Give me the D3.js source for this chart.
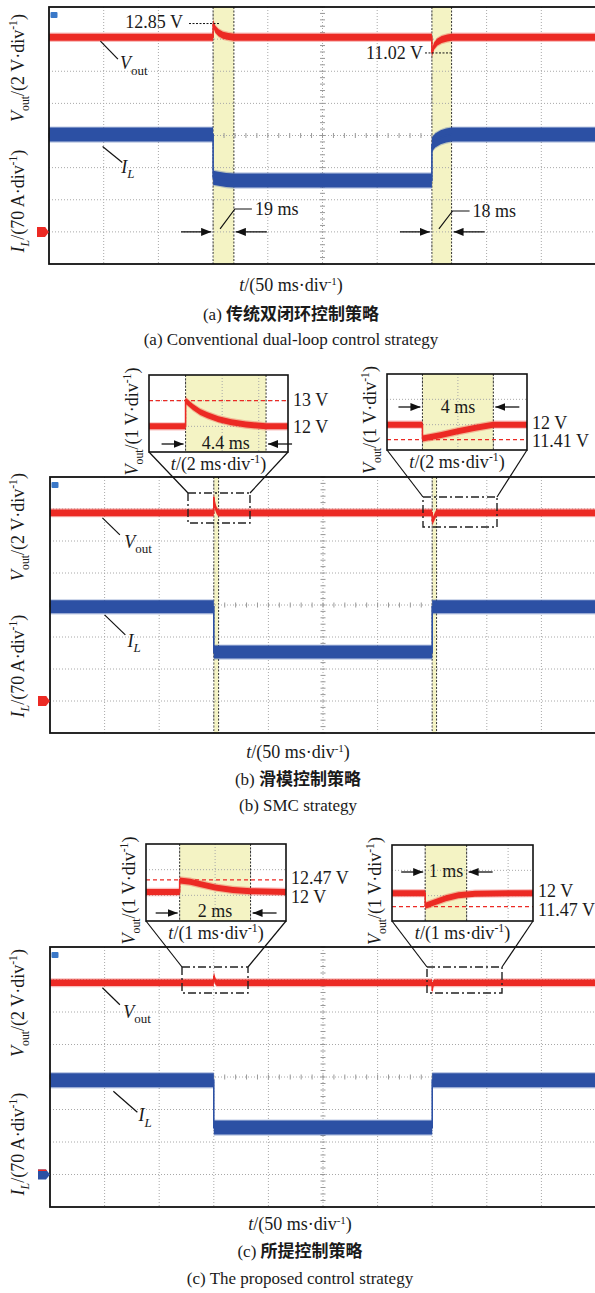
<!DOCTYPE html>
<meta charset="utf-8">
<style>
body { margin: 0; background: #fff; }
svg { display: block; background: #fff; }
text { font-family: "Liberation Serif", "Times New Roman", serif; font-size: 18px; fill: #1a1a1a; }
.cn { font-family: "Noto Sans CJK SC", sans-serif; font-weight: bold; }
.grid line { stroke: #a8a8a8; stroke-width: 1; stroke-dasharray: 1,2; }
.minor line { stroke: #999; stroke-width: 1; }
.frame { fill: none; stroke: #111; stroke-width: 1.8; }
.lead { stroke: #111; stroke-width: 1.2; fill: none; }
.edge { stroke: #333; stroke-width: 1; stroke-dasharray: 2,1.5; }
.dashdot { fill: none; stroke: #222; stroke-width: 1.4; stroke-dasharray: 8,3,2,3; }
</style>
<svg width="595" height="1293"></svg>
<script src="https://cdn.jsdelivr.net/npm/d3@7"></script>
<script>

// scope settings
var tDomain = [0, 500];      // 50 ms/div, 10 div
var vPerDiv = 2, iPerDiv = 70;
var loadSteps = [150, 350];  // ms

// (a) conventional dual-loop, [t ms, value]
var voutA = [[0,12],[150,12],[150,12.85],[152,12.5],[155,12.28],[159,12.12],[164,12.04],[169,12],
             [350,12],[350,11.02],[352,11.45],[355,11.7],[359,11.86],[364,11.95],[368,12],[500,12]];
var ilA = [[0,212],[150,212],[150,118],[155,116],[162,113],[169,112],
           [350,112],[350,190],[353,199],[358,206],[363,210],[368,212],[500,212]];
var settleA = [19, 18];

// (b) SMC
var ilB = [[0,206],[150,206],[150,107],[350,107],[350,206],[500,206]];
var settleB = [4.4, 4];

// (c) proposed
var ilC = [[0,203],[150,203],[150,101],[350,101],[350,203],[500,203]];
var settleC = [2, 1];

// zoomed Vout around each load step, [ms after step, V]
var zoomB1 = [[-2,12],[0,12],[0,13],[0.4,12.75],[0.8,12.56],[1.2,12.43],[1.8,12.28],[2.5,12.16],[3.3,12.07],[4.4,12],[5.6,12]];
var zoomB2 = [[-2,12],[0,12],[0,11.45],[1,11.58],[2,11.74],[3,11.88],[4,12],[5.9,12]];
var zoomC1 = [[-1,12],[0,12],[0,12.45],[0.3,12.4],[0.6,12.3],[1,12.18],[1.5,12.08],[2,12.03],[3,12]];
var zoomC2 = [[-0.8,12],[0,12],[0,11.5],[0.2,11.62],[0.5,11.8],[0.8,11.92],[1.2,11.98],[2.6,12]];

var captionsCn = ["传统双闭环控制策略", "滑模控制策略", "所提控制策略"];
var captionsEn = ["(a) Conventional dual-loop control strategy", "(b) SMC strategy", "(c) The proposed control strategy"];
var tags = ["(a) ", "(b) ", "(c) "];

var RED = "#ec2a24", BLUE = "#2c50a4", YEL = "#f4f3c4";

function shift(arr, t0) { return arr.map(function(d) { return [d[0] + t0, d[1]]; }); }
var voutB = [[0,12]].concat(shift(zoomB1, 150), shift(zoomB2, 350), [[500,12]]);
var voutC = [[0,12]].concat(shift(zoomC1, 150), shift(zoomC2, 350), [[500,12]]);

var svg = d3.select("svg");

var defs = svg.append("defs");
defs.append("marker").attr("id", "ah")
    .attr("markerUnits", "userSpaceOnUse")
    .attr("markerWidth", 10).attr("markerHeight", 8)
    .attr("refX", 10).attr("refY", 4).attr("orient", "auto")
  .append("path").attr("d", "M0,0L10,4L0,8z").attr("fill", "#111");

function rich(sel, parts, size) {
  var cur = 0;
  parts.forEach(function(p) {
    var ts = sel.append("tspan").text(p[0]);
    var k = p[1], target = 0;
    if (k === "sub" || k === "isub") target = size * 0.28;
    if (k === "sup") target = -size * 0.38;
    if (target !== cur) { ts.attr("dy", target - cur); cur = target; }
    if (k === "sub" || k === "isub" || k === "sup") ts.style("font-size", (size * 0.65) + "px");
    if (k === "i" || k === "isub") ts.style("font-style", "italic");
  });
  return sel;
}

var vAxis2 = [["V","i"],["out","sub"],["/(2 V·div",""],["-1","sup"],[")",""]];
var iAxis = [["I","i"],["L","isub"],["/(70 A·div",""],["-1","sup"],[")",""]];
var tAxis50 = [["t","i"],["/(50 ms·div",""],["-1","sup"],[")",""]];
var vAxis1 = [["V","i"],["out","sub"],["/(1 V·div",""],["-1","sup"],[")",""]];
var tAxis2 = [["t","i"],["/(2 ms·div",""],["-1","sup"],[")",""]];
var tAxis1 = [["t","i"],["/(1 ms·div",""],["-1","sup"],[")",""]];
var vName = [["V","i"],["out","sub"]];
var iName = [["I","i"],["L","isub"]];

function band(g, pts, x, yOf, half, color) {
  var outer = d3.area().x(function(d) { return x(d[0]); })
      .y0(function(d) { return yOf(d[1]) - half - 1.2; })
      .y1(function(d) { return yOf(d[1]) + half + 1.2; });
  var inner = d3.area().x(function(d) { return x(d[0]); })
      .y0(function(d) { return yOf(d[1]) - half; })
      .y1(function(d) { return yOf(d[1]) + half; });
  var line = d3.line().x(function(d) { return x(d[0]); }).y(function(d) { return yOf(d[1]); });
  g.append("path").datum(pts).attr("d", outer).attr("fill", color).attr("opacity", 0.3);
  g.append("path").datum(pts).attr("d", inner).attr("fill", color);
  g.append("path").datum(pts).attr("d", line).attr("fill", "none").attr("stroke", color).attr("stroke-width", 1.6);
}

function arrow(g, x1, y1, x2, y2) {
  g.append("line").attr("x1", x1).attr("y1", y1).attr("x2", x2).attr("y2", y2)
    .attr("stroke", "#111").attr("stroke-width", 1.3).attr("marker-end", "url(#ah)");
}

var panels = [
  {left:49, right:596, top:7, bottom:264, vGround:1.06, iGround:1, vout:voutA, il:ilA, settle:settleA,
   vHalf:3.5, iHalf:7, gnd:[RED, RED], showBand:true, capX:291, capY:[291,320,345],
   vLab:{t:[47,63,65], dy:[4,22,32]}, iLab:{t:[49,67,66], dy:[12,28,38]}, axY:[68,201]},
  {left:50, right:596, top:477, bottom:733, vGround:0.88, iGround:1, vout:voutB, il:ilB, settle:settleB,
   vHalf:3.3, iHalf:6.5, gnd:[RED, RED], showBand:true, capX:298, capY:[758,785,811],
   vLab:{t:[48,64,68], dy:[5,22,35]}, iLab:{t:[50,69,71], dy:[8,28,40]}, axY:[527,666]},
  {left:50, right:596, top:947, bottom:1207, vGround:0.9, iGround:1, vout:voutC, il:ilC, settle:settleC,
   vHalf:3.2, iHalf:7, gnd:[BLUE, RED], showBand:false, capX:300, capY:[1230,1257,1284],
   vLab:{t:[48,64,67], dy:[5,22,35]}, iLab:{t:[58,80,81], dy:[11,32,41]}, axY:[1003,1144]}
];

panels.forEach(function(p, pi) {
  var g = svg.append("g");
  var x = d3.scaleLinear().domain(tDomain).range([p.left, p.right]);
  var y = d3.scaleLinear().domain([0, 8]).range([p.bottom, p.top]);
  var yV = function(v) { return y(p.vGround + v / vPerDiv); };
  var yI = function(a) { return y(p.iGround + a / iPerDiv); };

  // settling windows
  if (p.showBand) {
    loadSteps.forEach(function(t0, i) {
      var t1 = t0 + p.settle[i];
      g.append("rect").attr("x", x(t0)).attr("y", p.top).attr("width", x(t1) - x(t0))
        .attr("height", p.bottom - p.top).attr("fill", YEL);
      [t0, t1].forEach(function(t) {
        g.append("line").attr("class", "edge").attr("x1", x(t)).attr("x2", x(t))
          .attr("y1", p.top).attr("y2", p.bottom);
      });
    });
  }

  var grid = g.append("g").attr("class", "grid");
  grid.selectAll(".gv").data(d3.range(50, 500, 50)).enter().append("line")
    .attr("x1", function(d) { return x(d); }).attr("x2", function(d) { return x(d); })
    .attr("y1", p.top).attr("y2", p.bottom);
  grid.selectAll(".gh").data(d3.range(1, 8)).enter().append("line")
    .attr("x1", p.left).attr("x2", p.right)
    .attr("y1", function(d) { return y(d); }).attr("y2", function(d) { return y(d); });

  var minor = g.append("g").attr("class", "minor");
  minor.selectAll(".mx").data(d3.range(0, 500.1, 10)).enter().append("line")
    .attr("x1", function(d) { return x(d); }).attr("x2", function(d) { return x(d); })
    .attr("y1", y(4) - 2.5).attr("y2", y(4) + 2.5);
  minor.selectAll(".my").data(d3.range(0, 8.01, 0.2)).enter().append("line")
    .attr("x1", x(250) - 2.5).attr("x2", x(250) + 2.5)
    .attr("y1", function(d) { return y(d); }).attr("y2", function(d) { return y(d); });

  band(g, p.il, x, yI, p.iHalf, BLUE);
  band(g, p.vout, x, yV, p.vHalf, RED);

  g.append("rect").attr("class", "frame").attr("x", p.left).attr("y", p.top)
    .attr("width", p.right - p.left).attr("height", p.bottom - p.top);

  // trigger tab and ground marker
  g.append("rect").attr("x", p.left + 1.5).attr("y", p.top + 5).attr("width", 7).attr("height", 6)
    .attr("rx", 1).attr("fill", "#3a78c8");
  var gy = y(p.iGround);
  g.append("path").attr("d", "M" + (p.left - 12) + "," + (gy - 5) + "h8l4,5l-4,5h-8z")
    .attr("fill", p.gnd[0]);
  g.append("path").attr("d", "M" + (p.left - 12) + "," + (gy - 5) + "h8l1,1.5h-9z")
    .attr("fill", p.gnd[1]);

  // trace names
  var vy0 = yV(12), iy0 = yI(p.il[0][1]);
  g.append("path").attr("class", "lead")
    .attr("d", "M" + x(p.vLab.t[0]) + "," + (vy0 + p.vLab.dy[0]) + "L" + x(p.vLab.t[1]) + "," + (vy0 + p.vLab.dy[1]));
  rich(g.append("text").attr("x", x(p.vLab.t[2])).attr("y", vy0 + p.vLab.dy[2]), vName, 20);
  g.append("path").attr("class", "lead")
    .attr("d", "M" + x(p.iLab.t[0]) + "," + (iy0 + p.iLab.dy[0]) + "L" + x(p.iLab.t[1]) + "," + (iy0 + p.iLab.dy[1]));
  rich(g.append("text").attr("x", x(p.iLab.t[2])).attr("y", iy0 + p.iLab.dy[2]), iName, 20);

  // axis titles
  rich(g.append("text").attr("text-anchor", "middle")
    .attr("transform", "translate(24," + p.axY[0] + ") rotate(-90)"), vAxis2, 18);
  rich(g.append("text").attr("text-anchor", "middle")
    .attr("transform", "translate(24," + p.axY[1] + ") rotate(-90)"), iAxis, 18);
  rich(g.append("text").attr("text-anchor", "middle").attr("x", p.capX).attr("y", p.capY[0]), tAxis50, 17);

  var cn = g.append("text").attr("text-anchor", "middle").attr("x", p.capX).attr("y", p.capY[1]).style("font-size", "17px");
  cn.append("tspan").text(tags[pi]);
  cn.append("tspan").attr("class", "cn").text(captionsCn[pi]);
  g.append("text").attr("text-anchor", "middle").attr("x", p.capX).attr("y", p.capY[2])
    .style("font-size", "17px").text(captionsEn[pi]);

  // peak and settling-time notes for panel (a)
  if (pi === 0) {
    var peaks = [[12.85, "12.85 V", 183, 4, 189, x(150) + 7], [11.02, "11.02 V", 423, 6, 425, x(368)]];
    peaks.forEach(function(k) {
      g.append("text").attr("text-anchor", "end").attr("x", k[2]).attr("y", yV(k[0]) + k[3]).text(k[1]);
      g.append("line").attr("x1", k[4]).attr("x2", k[5]).attr("y1", yV(k[0])).attr("y2", yV(k[0]))
        .attr("stroke", "#111").attr("stroke-width", 1).attr("stroke-dasharray", "2,1.5");
    });
    loadSteps.forEach(function(t0, i) {
      var xa = x(t0), xb = x(t0 + p.settle[i]), ay = y(1);
      var ly = i === 0 ? 209 : 211;
      g.append("path").attr("class", "lead")
        .attr("d", "M" + (xa + 7) + "," + (ay - 3) + "L" + (xb + 1) + "," + ly + "H" + (xb + 18));
      g.append("text").attr("x", xb + 21).attr("y", ly + 6).text(p.settle[i] + " ms");
      arrow(g, xa - 32, ay, xa - 2, ay);
      arrow(g, xb + 33, ay, xb + 2, ay);
    });
  }
});

// zoomed insets
var insets = [
  {box:[149,288,375,452], tDom:[-2,5.6], vDom:[11,14], div:2, settle:settleB[0], data:zoomB1, refs:[13],
   labels:[["13 V",13,5],["12 V",12,7]], arrowY:444, textY:449, zoomBox:[188,250,493,523], tLab:tAxis2},
  {box:[387,527,374,450], tDom:[-2,5.9], vDom:[11,14], div:2, settle:settleB[1], data:zoomB2, refs:[11.41],
   labels:[["12 V",12,4],["11.41 V",11.41,7]], arrowY:407, textY:413, zoomBox:[423,497,497,527], tLab:tAxis2},
  {box:[146,286,844,921], tDom:[-0.95,3], vDom:[10.87,13.87], div:1, settle:settleC[0], data:zoomC1, refs:[12.47],
   labels:[["12.47 V",12.47,4],["12 V",12,11]], arrowY:913, textY:917, zoomBox:[182,248,967,993], tLab:tAxis1},
  {box:[392,533,845,921], tDom:[-0.8,2.6], vDom:[10.9,13.9], div:1, settle:settleC[1], data:zoomC2, refs:[11.47],
   labels:[["12 V",12,4],["11.47 V",11.47,9]], arrowY:872, textY:877, zoomBox:[427,502,967,993], tLab:tAxis1}
];

insets.forEach(function(s, k) {
  var b = s.box;
  var g = svg.append("g");
  var x = d3.scaleLinear().domain(s.tDom).range([b[0], b[1]]);
  var y = d3.scaleLinear().domain(s.vDom).range([b[3], b[2]]);

  // leader lines and dash-dot source box
  var z = s.zoomBox;
  g.append("path").attr("class", "lead").attr("d", "M" + b[0] + "," + b[3] + "L" + z[0] + "," + z[2]);
  g.append("path").attr("class", "lead").attr("d", "M" + b[1] + "," + b[3] + "L" + z[1] + "," + z[2]);
  g.append("rect").attr("class", "dashdot").attr("x", z[0]).attr("y", z[2])
    .attr("width", z[1] - z[0]).attr("height", z[3] - z[2]);

  g.append("rect").attr("x", b[0]).attr("y", b[2]).attr("width", b[1] - b[0]).attr("height", b[3] - b[2])
    .attr("fill", "#fff");
  g.append("rect").attr("x", x(0)).attr("y", b[2]).attr("width", x(s.settle) - x(0)).attr("height", b[3] - b[2])
    .attr("fill", YEL);

  var grid = g.append("g").attr("class", "grid");
  var tg = d3.range(Math.ceil(s.tDom[0] / s.div) * s.div, s.tDom[1], s.div).filter(function(t) { return x(t) > b[0] + 2; });
  grid.selectAll(".v").data(tg).enter().append("line")
    .attr("x1", function(d) { return x(d); }).attr("x2", function(d) { return x(d); })
    .attr("y1", b[2]).attr("y2", b[3]);
  grid.selectAll(".h").data([s.vDom[0] + 1, s.vDom[0] + 2]).enter().append("line")
    .attr("x1", b[0]).attr("x2", b[1])
    .attr("y1", function(d) { return y(d); }).attr("y2", function(d) { return y(d); });
  [0, s.settle].forEach(function(t) {
    g.append("line").attr("class", "edge").attr("x1", x(t)).attr("x2", x(t)).attr("y1", b[2]).attr("y2", b[3]);
  });

  s.refs.forEach(function(v) {
    g.append("line").attr("x1", b[0]).attr("x2", b[1]).attr("y1", y(v)).attr("y2", y(v))
      .attr("stroke", RED).attr("stroke-width", 1.2).attr("stroke-dasharray", "4,3");
  });

  var clipId = "clip" + k;
  defs.append("clipPath").attr("id", clipId).append("rect")
    .attr("x", b[0]).attr("y", b[2]).attr("width", b[1] - b[0]).attr("height", b[3] - b[2]);
  var tr = g.append("g").attr("clip-path", "url(#" + clipId + ")");
  band(tr, s.data, x, y, 3, RED);

  g.append("rect").attr("x", b[0]).attr("y", b[2]).attr("width", b[1] - b[0]).attr("height", b[3] - b[2])
    .attr("fill", "none").attr("stroke", "#111").attr("stroke-width", 1.6);

  arrow(g, x(0) - 24, s.arrowY, x(0) - 2, s.arrowY);
  arrow(g, x(s.settle) + 26, s.arrowY, x(s.settle) + 2, s.arrowY);
  g.append("text").attr("text-anchor", "middle").attr("x", (x(0) + x(s.settle)) / 2).attr("y", s.textY)
    .text(s.settle + " ms");

  s.labels.forEach(function(l) {
    g.append("text").attr("x", b[1] + 5).attr("y", y(l[1]) + l[2]).text(l[0]);
  });

  rich(g.append("text").attr("text-anchor", "middle").attr("x", (b[0] + b[1]) / 2).attr("y", b[3] + 18), s.tLab, 18);
  rich(g.append("text").attr("text-anchor", "middle")
    .attr("transform", "translate(" + (b[0] - 11) + "," + ((b[2] + b[3]) / 2 + 8) + ") rotate(-90)"), vAxis1, 18);
});

</script>
